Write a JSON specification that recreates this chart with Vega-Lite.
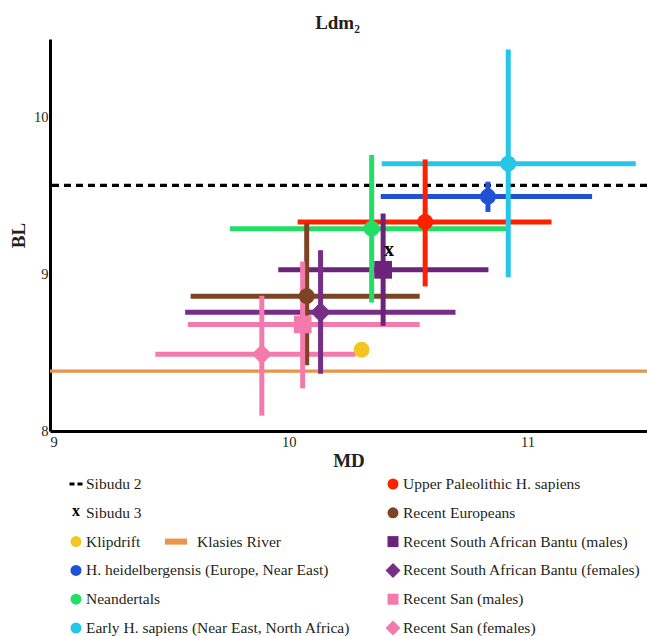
{
  "$schema": "https://vega.github.io/schema/vega-lite/v6.json",
  "padding": {"top": 14, "left": 9, "right": 0, "bottom": 0},
  "spacing": 2,
  "config": {
    "view": {"stroke": null},
    "font": "Liberation Serif",
    "axis": {"domainColor": "#000000", "domainWidth": 3, "ticks": false, "grid": false, "labelFont": "Liberation Serif", "labelFontSize": 14.5, "labelColor": "#231f20", "titleFont": "Liberation Serif", "titleFontSize": 19, "titleFontWeight": "bold", "titleColor": "#231f20"},
    "axisX": {"labelPadding": 4, "titlePadding": 3},
    "axisY": {"labelPadding": 2, "titlePadding": 5}
  },
  "datasets": {
    "groups": [
      {"group": "Sibudu 2", "y": 9.567},
      {"group": "Klasies River", "y": 8.382},
      {"group": "Sibudu 3", "x": 10.42, "y": 9.155},
      {"group": "Klipdrift", "x": 10.305, "y": 8.518},
      {"group": "H. heidelbergensis (Europe, Near East)", "x": 10.834, "y": 9.495, "xmin": 10.385, "xmax": 11.27, "ymin": 9.397, "ymax": 9.59},
      {"group": "Neandertals", "x": 10.347, "y": 9.29, "xmin": 9.754, "xmax": 10.92, "ymin": 8.82, "ymax": 9.76},
      {"group": "Early H. sapiens (Near East, North Africa)", "x": 10.919, "y": 9.705, "xmin": 10.389, "xmax": 11.453, "ymin": 8.98, "ymax": 10.433},
      {"group": "Upper Paleolithic H. sapiens", "x": 10.571, "y": 9.333, "xmin": 10.037, "xmax": 11.1, "ymin": 8.922, "ymax": 9.732},
      {"group": "Recent Europeans", "x": 10.075, "y": 8.86, "xmin": 9.589, "xmax": 10.548, "ymin": 8.42, "ymax": 9.325},
      {"group": "Recent South African Bantu (males)", "x": 10.395, "y": 9.028, "xmin": 9.956, "xmax": 10.836, "ymin": 8.671, "ymax": 9.387},
      {"group": "Recent South African Bantu (females)", "x": 10.133, "y": 8.757, "xmin": 9.566, "xmax": 10.698, "ymin": 8.365, "ymax": 9.153},
      {"group": "Recent San (males)", "x": 10.058, "y": 8.68, "xmin": 9.577, "xmax": 10.548, "ymin": 8.272, "ymax": 9.081},
      {"group": "Recent San (females)", "x": 9.887, "y": 8.49, "xmin": 9.441, "xmax": 10.28, "ymin": 8.098, "ymax": 8.862}
    ],
    "legend": [
      {"group": "Sibudu 2", "col": 1, "row": 1},
      {"group": "Sibudu 3", "col": 1, "row": 2},
      {"group": "Klipdrift", "col": 1, "row": 3},
      {"group": "Klasies River", "col": 2, "row": 3},
      {"group": "H. heidelbergensis (Europe, Near East)", "col": 1, "row": 4},
      {"group": "Neandertals", "col": 1, "row": 5},
      {"group": "Early H. sapiens (Near East, North Africa)", "col": 1, "row": 6},
      {"group": "Upper Paleolithic H. sapiens", "col": 3, "row": 1},
      {"group": "Recent Europeans", "col": 3, "row": 2},
      {"group": "Recent South African Bantu (males)", "col": 3, "row": 3},
      {"group": "Recent South African Bantu (females)", "col": 3, "row": 4},
      {"group": "Recent San (males)", "col": 3, "row": 5},
      {"group": "Recent San (females)", "col": 3, "row": 6}
    ]
  },
  "resolve": {"scale": {"x": "independent", "y": "independent", "color": "independent", "shape": "independent"}},
  "vconcat": [
    {
      "title": {"text": "Ldm₂", "font": "Liberation Serif", "fontSize": 19, "fontWeight": "bold", "color": "#231f20", "anchor": "middle", "dx": -11, "offset": 6},
      "width": 597,
      "height": 392,
      "data": {"name": "groups"},
      "encoding": {
        "color": {
          "field": "group", "type": "nominal", "legend": null,
          "scale": {
            "domain": ["Sibudu 2", "Sibudu 3", "Klipdrift", "Klasies River", "H. heidelbergensis (Europe, Near East)", "Neandertals", "Early H. sapiens (Near East, North Africa)", "Upper Paleolithic H. sapiens", "Recent Europeans", "Recent South African Bantu (males)", "Recent South African Bantu (females)", "Recent San (males)", "Recent San (females)"],
            "range": ["#000000", "#000000", "#f5c522", "#e8944a", "#2152d6", "#22dd66", "#26c6e6", "#ff2000", "#7d4424", "#6b2479", "#762e86", "#f47aae", "#f47aae"]
          }
        }
      },
      "layer": [
        {
          "transform": [{"filter": "datum.group === 'Klasies River'"}],
          "mark": {"type": "rule", "strokeWidth": 3.3},
          "encoding": {"y": {"field": "y", "type": "quantitative", "scale": {"domain": [8, 10.5], "nice": false, "zero": false}, "title": "BL", "axis": {"values": [8, 9, 10], "format": "d"}}}
        },
        {
          "transform": [{"filter": "isValid(datum.xmin)"}],
          "mark": {"type": "rule", "strokeWidth": 5, "strokeCap": "butt"},
          "encoding": {
            "x": {"field": "xmin", "type": "quantitative", "scale": {"domain": [9, 11.5], "nice": false, "zero": false}, "title": "MD", "axis": {"values": [9, 10, 11], "format": "d"}},
            "x2": {"field": "xmax"},
            "y": {"field": "y", "type": "quantitative", "title": "BL"}
          }
        },
        {
          "transform": [{"filter": "datum.group === 'Sibudu 2'"}],
          "mark": {"type": "rule", "strokeWidth": 3.3, "strokeDash": [7, 5]},
          "encoding": {"y": {"field": "y", "type": "quantitative", "title": "BL"}}
        },
        {
          "transform": [{"filter": "isValid(datum.ymin)"}],
          "mark": {"type": "rule", "strokeWidth": 5, "strokeCap": "butt"},
          "encoding": {
            "x": {"field": "x", "type": "quantitative", "title": "MD"},
            "y": {"field": "ymin", "type": "quantitative", "title": "BL"},
            "y2": {"field": "ymax"}
          }
        },
        {
          "transform": [{"filter": "indexof(['Klipdrift', 'H. heidelbergensis (Europe, Near East)', 'Neandertals', 'Early H. sapiens (Near East, North Africa)', 'Upper Paleolithic H. sapiens', 'Recent Europeans'], datum.group) >= 0"}],
          "mark": {"type": "point", "shape": "circle", "filled": true, "opacity": 1, "size": 254},
          "encoding": {
            "x": {"field": "x", "type": "quantitative", "title": "MD"},
            "y": {"field": "y", "type": "quantitative", "title": "BL"}
          }
        },
        {
          "transform": [{"filter": "indexof(['Recent South African Bantu (males)', 'Recent San (males)'], datum.group) >= 0"}],
          "mark": {"type": "point", "shape": "square", "filled": true, "opacity": 1, "size": 315},
          "encoding": {
            "x": {"field": "x", "type": "quantitative", "title": "MD"},
            "y": {"field": "y", "type": "quantitative", "title": "BL"}
          }
        },
        {
          "transform": [{"filter": "indexof(['Recent South African Bantu (females)', 'Recent San (females)'], datum.group) >= 0"}],
          "mark": {"type": "point", "shape": "diamond", "filled": true, "opacity": 1, "size": 420},
          "encoding": {
            "x": {"field": "x", "type": "quantitative", "title": "MD"},
            "y": {"field": "y", "type": "quantitative", "title": "BL"}
          }
        },
        {
          "transform": [{"filter": "datum.group === 'Sibudu 3'"}],
          "mark": {"type": "text", "text": "x", "font": "Liberation Serif", "fontSize": 20, "fontWeight": "bold", "color": "#000000", "baseline": "middle"},
          "encoding": {
            "x": {"field": "x", "type": "quantitative", "title": "MD"},
            "y": {"field": "y", "type": "quantitative", "title": "BL"}
          }
        }
      ]
    },
    {
      "width": 597,
      "height": 158,
      "data": {"name": "legend"},
      "encoding": {
        "x": {"field": "col", "type": "quantitative", "axis": null, "scale": {"domain": [1, 2, 3], "range": [26, 126, 343]}},
        "y": {"field": "row", "type": "quantitative", "axis": null, "scale": {"domain": [0.618, 6.104], "reverse": true, "nice": false, "zero": false}}
      },
      "layer": [
        {
          "transform": [{"filter": "datum.group !== 'Sibudu 3'"}],
          "mark": {"type": "point", "filled": true, "opacity": 1, "size": 121},
          "encoding": {
            "color": {
              "field": "group", "type": "nominal", "legend": null,
              "scale": {
                "domain": ["Sibudu 2", "Sibudu 3", "Klipdrift", "Klasies River", "H. heidelbergensis (Europe, Near East)", "Neandertals", "Early H. sapiens (Near East, North Africa)", "Upper Paleolithic H. sapiens", "Recent Europeans", "Recent South African Bantu (males)", "Recent South African Bantu (females)", "Recent San (males)", "Recent San (females)"],
                "range": ["#000000", "#000000", "#f5c522", "#e8944a", "#2152d6", "#22dd66", "#26c6e6", "#ff2000", "#7d4424", "#6b2479", "#762e86", "#f47aae", "#f47aae"]
              }
            },
            "shape": {
              "field": "group", "type": "nominal", "legend": null,
              "scale": {
                "domain": ["Sibudu 2", "Sibudu 3", "Klipdrift", "Klasies River", "H. heidelbergensis (Europe, Near East)", "Neandertals", "Early H. sapiens (Near East, North Africa)", "Upper Paleolithic H. sapiens", "Recent Europeans", "Recent South African Bantu (males)", "Recent South African Bantu (females)", "Recent San (males)", "Recent San (females)"],
                "range": ["M-1.18,-0.27H-0.27V0.27H-1.18ZM0.27,-0.27H1.18V0.27H0.27Z", "circle", "circle", "M-2,-0.55H2V0.55H-2Z", "circle", "circle", "circle", "circle", "circle", "square", "M0,-1.36L1.36,0L0,1.36L-1.36,0Z", "square", "M0,-1.36L1.36,0L0,1.36L-1.36,0Z"]
              }
            }
          }
        },
        {
          "transform": [{"filter": "datum.group === 'Sibudu 3'"}],
          "mark": {"type": "text", "text": "x", "font": "Liberation Serif", "fontSize": 16, "fontWeight": "bold", "color": "#000000", "baseline": "middle", "dy": -2}
        },
        {
          "transform": [{"filter": "datum.group !== 'Klasies River'"}],
          "mark": {"type": "text", "align": "left", "baseline": "middle", "dx": 10, "font": "Liberation Serif", "fontSize": 15.5, "color": "#231f20"},
          "encoding": {"text": {"field": "group", "type": "nominal"}}
        },
        {
          "transform": [{"filter": "datum.group === 'Klasies River'"}],
          "mark": {"type": "text", "align": "left", "baseline": "middle", "dx": 21, "font": "Liberation Serif", "fontSize": 15.5, "color": "#231f20"},
          "encoding": {"text": {"field": "group", "type": "nominal"}}
        }
      ]
    }
  ]
}
